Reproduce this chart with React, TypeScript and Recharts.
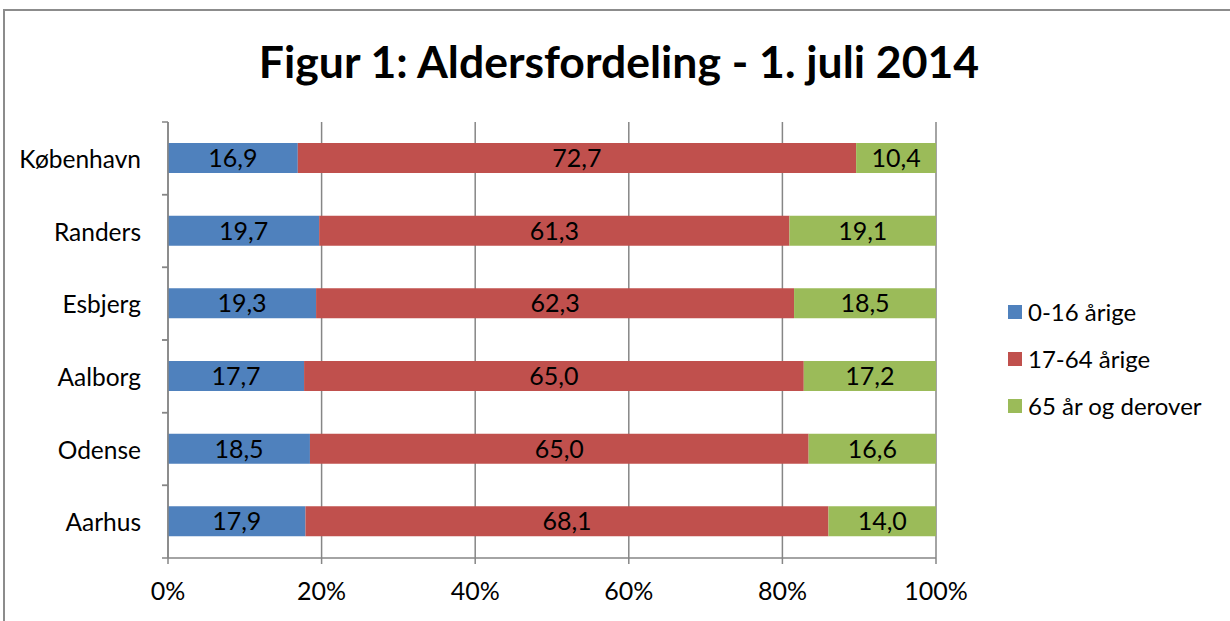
import React from 'react';
import { BarChart, Bar, XAxis, YAxis, CartesianGrid, Legend, LabelList } from 'recharts';

const cities = ['København', 'Randers', 'Esbjerg', 'Aalborg', 'Odense', 'Aarhus'];
const young = [16.9, 19.7, 19.3, 17.7, 18.5, 17.9];
const working = [72.7, 61.3, 62.3, 65.0, 65.0, 68.1];
const elderly = [10.4, 19.1, 18.5, 17.2, 16.6, 14.0];
const xTicks = [0, 0.2, 0.4, 0.6, 0.8, 1];

const series = [
  { key: 'young', name: '0-16 årige', color: '#4F81BD' },
  { key: 'working', name: '17-64 årige', color: '#C0504D' },
  { key: 'elderly', name: '65 år og derover', color: '#9BBB59' },
];

const data = cities.map((city, i) => ({
  city,
  young: young[i],
  working: working[i],
  elderly: elderly[i],
}));

const W = 1230;
const H = 621;
const TOP = 122;
const BOTTOM = 63;
const LEFT = 168;
const RIGHT = 294;
const FONT = 'Lato, "Open Sans", sans-serif';
const AXIS = '#868686';

const fmt = (v: any) => Number(v).toFixed(1).replace('.', ',');

const CityTick = (props: any) => {
  const { y, payload } = props;
  const band = (H - TOP - BOTTOM) / cities.length;
  return (
    <g>
      <line x1={LEFT - 6} x2={LEFT} y1={y - band / 2} y2={y - band / 2} stroke={AXIS} strokeWidth={1.5} />
      <line x1={LEFT - 6} x2={LEFT} y1={y + band / 2} y2={y + band / 2} stroke={AXIS} strokeWidth={1.5} />
      <text x={141} y={y} textAnchor="end" dominantBaseline="central" fontSize={24.5} fontFamily={FONT} fill="#000">
        {payload.value}
      </text>
    </g>
  );
};

const LegendList = () => (
  <div style={{ fontFamily: FONT, fontSize: 24, color: '#000' }}>
    {series.map((s) => (
      <div key={s.key} style={{ display: 'flex', alignItems: 'center', height: 47 }}>
        <span style={{ width: 14, height: 14, background: s.color, display: 'inline-block', marginRight: 6 }} />
        <span>{s.name}</span>
      </div>
    ))}
  </div>
);

export default function App() {
  return (
    <div style={{ position: 'absolute', left: 0, top: 0, width: W, height: H, background: '#fff', overflow: 'hidden' }}>
      <div
        style={{
          position: 'absolute',
          left: 3,
          top: 9,
          width: W + 20,
          height: H + 20,
          borderLeft: '2px solid #8c8c8c',
          borderTop: '2px solid #8c8c8c',
        }}
      />
      <div
        style={{
          position: 'absolute',
          left: 4,
          width: W,
          top: 34,
          textAlign: 'center',
          fontFamily: FONT,
          fontWeight: 700,
          fontSize: 44.5,
          lineHeight: '54px',
          color: '#000',
        }}
      >
        Figur 1: Aldersfordeling - 1. juli 2014
      </div>
      <div style={{ position: 'absolute', left: 0, top: 0 }}>
        <BarChart
          width={W}
          height={H}
          data={data}
          layout="vertical"
          stackOffset="expand"
          barSize={30}
          margin={{ top: TOP, right: RIGHT, bottom: 0, left: 0 }}
        >
          <CartesianGrid horizontal={false} vertical stroke={AXIS} strokeWidth={1.5} />
          <XAxis
            type="number"
            domain={[0, 1]}
            ticks={xTicks}
            tickFormatter={(v) => `${Math.round(v * 100)}%`}
            axisLine={{ stroke: AXIS, strokeWidth: 1.5 }}
            tickLine={{ stroke: AXIS, strokeWidth: 1.5 }}
            tickSize={6}
            tickMargin={18}
            tick={{ fill: '#000', fontSize: 25, fontFamily: FONT }}
            height={BOTTOM}
          />
          <YAxis
            type="category"
            dataKey="city"
            width={LEFT}
            axisLine={{ stroke: AXIS, strokeWidth: 1.5 }}
            tickLine={false}
            tick={<CityTick />}
          />
          <Legend
            layout="horizontal"
            verticalAlign="middle"
            align="center"
            content={<LegendList />}
            wrapperStyle={{ position: 'absolute', left: 1008, top: 288, width: 220 }}
          />
          {series.map((s) => (
            <Bar key={s.key} dataKey={s.key} name={s.name} stackId="a" fill={s.color} isAnimationActive={false}>
              <LabelList dataKey={s.key} position="center" formatter={fmt} fill="#000" fontSize={25} fontFamily={FONT} />
            </Bar>
          ))}
        </BarChart>
      </div>
    </div>
  );
}
